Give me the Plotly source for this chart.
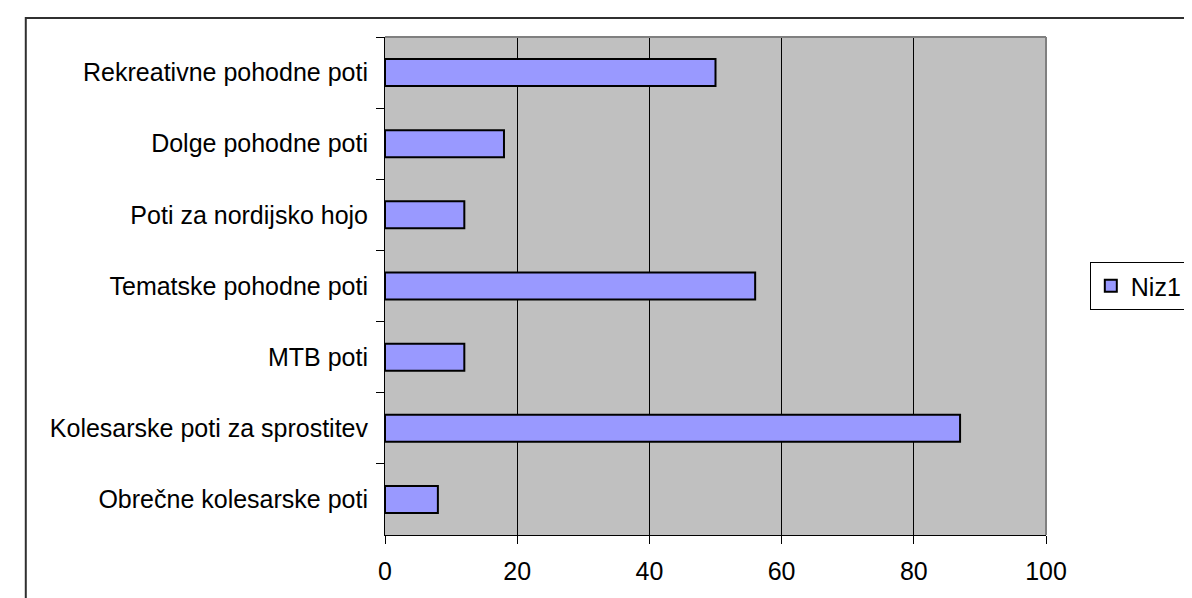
import plotly.graph_objects as go

categories = [
    "Rekreativne pohodne poti",
    "Dolge pohodne poti",
    "Poti za nordijsko hojo",
    "Tematske pohodne poti",
    "MTB poti",
    "Kolesarske poti za sprostitev",
    "Obrečne kolesarske poti",
]
values = [50, 18, 12, 56, 12, 87, 8]
series_name = "Niz1"
x_ticks = [0, 20, 40, 60, 80, 100]

W, H = 1192, 598
L, R, T, B = 377, W - 1056, 29, H - 527
pw, ph = W - L - R, H - T - B

def px_to_paper_x(p):
    return (p - L) / pw

def px_to_paper_y(p):
    return (H - B - p) / ph

FONT = "Liberation Sans, Arial, sans-serif"

fig = go.Figure(
    go.Bar(
        x=values,
        y=categories,
        orientation="h",
        name=series_name,
        marker=dict(color="#9999FF", line=dict(color="#000000", width=2)),
        showlegend=True,
    )
)

fig.update_layout(
    width=W,
    height=H,
    margin=dict(l=L, r=R, t=T, b=B, pad=0),
    paper_bgcolor="#FFFFFF",
    plot_bgcolor="#C0C0C0",
    font=dict(family=FONT, size=25, color="#000000"),
    bargap=0.62,
    showlegend=True,
    legend=dict(
        x=px_to_paper_x(1101),
        xanchor="left",
        y=0.5,
        yanchor="middle",
        bgcolor="#FFFFFF",
        bordercolor="#000000",
        borderwidth=1,
        font=dict(family=FONT, size=25, color="#000000"),
        itemwidth=30,
        tracegroupgap=0,
    ),
    xaxis=dict(
        range=[0, 100],
        tickvals=x_ticks,
        ticktext=[str(v) for v in x_ticks],
        showgrid=True,
        gridcolor="#000000",
        gridwidth=1,
        zeroline=False,
        showline=True,
        linecolor="#000000",
        linewidth=1,
        ticks="outside",
        ticklen=8,
        tickcolor="#000000",
        tickwidth=1,
        ticklabelstandoff=6,
        fixedrange=True,
    ),
    yaxis=dict(
        categoryorder="array",
        categoryarray=categories,
        autorange="reversed",
        showgrid=False,
        zeroline=False,
        showline=True,
        linecolor="#000000",
        linewidth=1,
        ticks="outside",
        tickson="boundaries",
        ticklen=8,
        tickcolor="#000000",
        tickwidth=1,
        ticklabelstandoff=11,
        fixedrange=True,
    ),
    shapes=[
        # plot area top and right border (grey)
        dict(type="line", xref="paper", yref="paper", x0=0, x1=1, y0=1, y1=1,
             line=dict(color="#808080", width=2)),
        dict(type="line", xref="paper", yref="paper", x0=1, x1=1, y0=0, y1=1,
             line=dict(color="#808080", width=2)),
        # outer chart border
        dict(type="rect", xref="paper", yref="paper",
             x0=px_to_paper_x(8), x1=px_to_paper_x(1200),
             y0=px_to_paper_y(610), y1=px_to_paper_y(10),
             line=dict(color="#303030", width=2), fillcolor="rgba(0,0,0,0)"),
    ],
)

fig.write_html("out.html")
